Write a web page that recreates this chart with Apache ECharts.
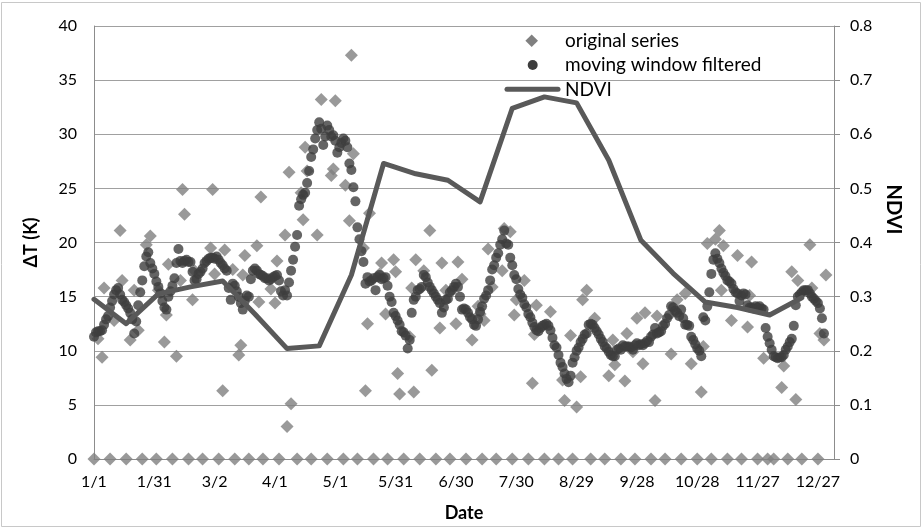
<!DOCTYPE html>
<html>
<head>
<meta charset="utf-8">
<script src="https://cdn.jsdelivr.net/npm/echarts/dist/echarts.min.js"></script>
<style>
  html, body { margin: 0; padding: 0; background: #fff; }
  #chart { width: 923px; height: 529px; }
</style>
</head>
<body>
<div id="chart"></div>
<script>
// Date tick labels, one every 30 days from 1 January
const dateTickLabels = ['1/1', '1/31', '3/2', '4/1', '5/1', '5/31', '6/30', '7/30', '8/29', '9/28', '10/28', '11/27', '12/27'];

// Original ΔT series: day offset from 1 January and value (0 = missing retrieval)
const origDay = [
  0, 2, 4, 5, 8, 10, 13, 14, 16, 18, 20, 22, 24, 26, 28, 31, 32, 35, 36, 37, 39, 41, 43, 44, 45, 47, 49, 50,
  54, 58, 59, 60, 62, 64, 65, 69, 70, 72, 73, 74, 75, 77, 81, 82, 83, 84, 88, 90, 91, 92, 95, 96, 97, 98,
  101, 103, 104, 105, 106, 108, 111, 113, 116, 118, 119, 120, 124, 125, 127, 128, 129, 131, 134, 135, 136, 137,
  139, 142, 143, 145, 146, 149, 150, 151, 152, 154, 157, 158, 159, 160, 162, 164, 167, 168, 170, 172, 173, 175,
  177, 180, 181, 183, 185, 188, 191, 192, 193, 194, 196, 198, 200, 203, 204, 207, 208, 209, 210, 214, 216, 218,
  219, 220, 224, 227, 231, 233, 234, 237, 238, 240, 242, 243, 245, 247, 249, 254, 256, 258, 259, 262, 264, 265,
  268, 269, 270, 273, 274, 277, 279, 280, 284, 287, 290, 292, 294, 297, 300, 302, 303, 305, 307, 309, 311, 312,
  313, 315, 317, 320, 322, 325, 326, 327, 330, 333, 335, 338, 342, 343, 345, 347, 349, 350, 352, 356, 357, 360,
  361, 363, 364
];
const origDeltaT = [
  0, 11.1, 9.4, 15.8, 0, 12.8, 21.1, 16.5, 0, 11.0, 15.6, 11.9, 0, 19.8, 20.6, 0, 15.6, 10.8, 13.3, 18.0, 0, 9.5, 16.5, 24.9, 22.6, 0, 14.7, 17.4,
  0, 19.5, 24.9, 17.1, 0, 6.3, 19.3, 17.5, 0, 9.6, 10.5, 17.0, 18.8, 0, 19.7, 14.5, 24.2, 0, 15.7, 14.4, 18.3, 0, 20.7, 3.0, 26.5, 5.1,
  0, 24.6, 22.1, 28.8, 26.6, 0, 20.7, 33.2, 0, 26.2, 26.8, 33.1, 0, 25.3, 22.0, 37.3, 28.2, 0, 19.5, 6.3, 12.5, 22.7,
  0, 17.1, 18.1, 13.4, 0, 18.4, 17.3, 7.9, 6.0, 0, 11.3, 15.8, 6.2, 18.4, 0, 17.4, 21.1, 8.2, 0, 12.1, 18.1, 15.6,
  0, 12.5, 18.2, 16.6, 0, 11.0, 14.1, 13.4, 0, 12.8, 19.4, 15.9, 0, 17.4, 21.3, 21.0, 0, 13.3, 14.7, 16.5, 0, 7.0,
  11.5, 14.2, 0, 13.6, 0, 7.3, 5.4, 11.4, 0, 4.8, 7.6, 14.7, 15.6, 0, 13.0, 0, 7.7, 11.0, 8.7, 0, 7.2, 11.6,
  9.9, 0, 13.0, 8.8, 13.5, 0, 5.4, 13.2, 0, 9.7, 14.7, 0, 15.3, 8.8, 0, 6.2, 10.4, 19.9, 0, 20.3, 21.1, 15.6,
  19.7, 0, 12.8, 18.8, 0, 12.2, 15.1, 18.2, 0, 9.3, 0, 0, 6.6, 8.6, 0, 17.3, 5.5, 16.5, 0, 19.8, 15.8, 0,
  11.6, 11.0, 17.0
];

// Moving window filtered ΔT, one value per day starting at 1 January
const filteredDeltaT = [
  11.3, 11.7, 11.8, 11.8, 11.9, 12.4, 12.9, 13.2, 14.0, 14.6,
  15.2, 15.6, 15.8, 15.2, 14.7, 14.5, 14.2, 13.9, 13.5, 12.9,
  11.6, 12.7, 14.2, 15.4, 16.5, 17.8, 18.7, 19.1, 18.1, 17.6,
  17.1, 16.4, 15.9, 15.3, 14.6, 14.0, 13.8, 15.0, 15.5, 16.0,
  16.7, 18.1, 19.4, 18.3, 18.1, 18.3, 18.4, 18.2, 18.2, 17.3,
  16.5, 16.6, 17.1, 17.3, 17.6, 18.1, 18.3, 18.5, 18.6, 18.6,
  18.5, 18.7, 18.4, 18.1, 17.9, 17.6, 17.4, 15.8, 14.7, 16.2,
  16.0, 15.5, 15.0, 14.4, 13.8, 14.6, 15.1, 15.0, 16.6, 17.4,
  17.6, 17.4, 17.1, 17.0, 16.9, 16.7, 16.7, 16.5, 16.6, 16.8,
  16.9, 17.0, 16.5, 15.5, 15.1, 15.6, 15.1, 16.3, 17.4, 18.4,
  19.6, 20.7, 23.4, 24.0, 24.4, 24.6, 25.5, 26.6, 27.9, 28.6,
  29.6, 30.4, 31.1, 30.5, 29.0, 29.8, 30.8, 30.4, 29.8, 29.9,
  29.4, 28.3, 28.8, 29.2, 29.6, 29.4, 28.8, 27.3, 26.7, 25.1,
  23.8, 21.4, 20.3, 19.2, 18.2, 16.2, 16.8, 16.4, 16.5, 16.7,
  15.6, 16.8, 17.0, 16.6, 16.7, 16.8, 16.0, 15.0, 14.5, 13.5,
  13.2, 12.8, 12.4, 11.8, 11.7, 11.4, 10.2, 11.0, 13.5, 14.7,
  15.0, 15.6, 15.7, 15.9, 17.0, 16.8, 16.3, 15.9, 15.6, 15.3,
  15.0, 14.7, 14.4, 13.5, 14.0, 14.7, 14.8, 15.4, 15.6, 15.9,
  16.2, 15.9, 15.0, 13.8, 13.9, 13.8, 13.5, 13.1, 12.9, 12.4,
  12.3, 12.9, 13.6, 14.1, 14.8, 15.1, 15.6, 16.5, 17.5, 17.9,
  18.6, 19.0, 19.8, 20.3, 21.1, 19.9, 19.8, 18.6, 17.9, 17.0,
  16.6, 15.7, 15.2, 14.9, 14.3, 14.0, 13.4, 13.1, 12.6, 12.2,
  11.9, 11.8, 12.1, 12.3, 12.4, 12.5, 12.3, 11.9, 11.2, 10.5,
  10.3, 9.6, 8.9, 8.5, 7.9, 7.4, 7.1, 7.7, 8.9, 9.4,
  10.0, 10.3, 10.8, 11.1, 11.5, 11.6, 12.4, 12.5, 12.4, 12.1,
  11.8, 11.5, 11.1, 10.8, 10.4, 10.2, 9.9, 9.6, 9.5, 9.5,
  10.1, 10.2, 10.1, 10.5, 10.4, 10.4, 10.4, 10.3, 10.1, 10.5,
  10.7, 10.5, 10.6, 10.5, 10.7, 10.9, 10.8, 11.3, 11.5, 12.1,
  11.6, 11.7, 11.8, 12.3, 12.5, 13.0, 13.3, 14.1, 14.0, 13.7,
  13.5, 13.2, 13.8, 13.0, 12.4, 12.4, 12.3, 11.3, 11.0, 10.6,
  10.2, 10.0, 9.5, 13.1, 12.8, 14.1, 15.4, 17.1, 18.4, 19.0,
  18.5, 18.1, 17.6, 17.2, 16.9, 16.5, 16.4, 16.2, 15.7, 15.4,
  15.3, 14.6, 15.1, 15.3, 15.2, 14.2, 14.0, 14.0, 13.9, 14.1,
  14.0, 14.1, 13.9, 13.8, 12.1, 11.3, 10.7, 10.1, 9.5, 9.4,
  9.3, 9.4, 9.4, 9.6, 10.1, 10.4, 10.8, 11.1, 12.3, 14.2,
  15.0, 15.2, 15.4, 15.6, 15.6, 15.6, 15.3, 15.0, 14.8, 14.6,
  14.4, 13.9, 13.0, 11.6
];

// 16-day composite NDVI
const ndviDay = [0, 16, 32, 48, 64, 80, 96, 112, 128, 144, 160, 176, 192, 208, 224, 240, 256, 272, 288, 304, 320, 336, 352];
const ndviValue = [0.295, 0.25, 0.305, 0.318, 0.329, 0.268, 0.204, 0.209, 0.34, 0.546, 0.527, 0.515, 0.475, 0.648, 0.669, 0.658, 0.552, 0.404, 0.343, 0.29, 0.28, 0.266, 0.298];

const FONT = 'Lato';
const AXIS_GRAY = '#8c8c8c';

const chart = echarts.init(document.getElementById('chart'), null, { renderer: 'canvas' });

chart.setOption({
  animation: false,
  backgroundColor: '#ffffff',
  grid: { left: 94, right: 89, top: 26, bottom: 70, containLabel: false, outerBoundsMode: 'none' },
  xAxis: {
    type: 'value',
    min: 0,
    max: 368,
    interval: 30,
    axisLine: { show: true, lineStyle: { color: AXIS_GRAY, width: 1 } },
    axisTick: { show: false },
    splitLine: { show: false },
    axisLabel: {
      fontFamily: FONT, fontSize: 16, color: '#000', margin: 15,
      showMaxLabel: false,
      formatter: v => (v % 30 === 0 && dateTickLabels[v / 30] !== undefined) ? dateTickLabels[v / 30] : ''
    },
    name: 'Date',
    nameLocation: 'middle',
    nameGap: 45,
    nameTextStyle: { fontFamily: FONT, fontSize: 18, fontWeight: 'bold', color: '#000' }
  },
  yAxis: [
    {
      type: 'value',
      position: 'left',
      min: 0, max: 40, interval: 5,
      axisLine: { show: true, lineStyle: { color: AXIS_GRAY, width: 1 } },
      axisTick: { show: false },
      splitLine: { show: true, lineStyle: { color: '#a0a0a0', width: 1 } },
      axisLabel: { fontFamily: FONT, fontSize: 16, color: '#000', margin: 17 },
      name: 'ΔT (K)',
      nameLocation: 'middle',
      nameRotate: 90,
      nameGap: 54,
      nameTextStyle: { fontFamily: FONT, fontSize: 18, fontWeight: 'bold', color: '#000' }
    },
    {
      type: 'value',
      position: 'right',
      min: 0, max: 0.8, interval: 0.1,
      axisLine: { show: true, lineStyle: { color: AXIS_GRAY, width: 1 } },
      axisTick: { show: true, length: 6, lineStyle: { color: AXIS_GRAY } },
      splitLine: { show: false },
      axisLabel: {
        fontFamily: FONT, fontSize: 16, color: '#000', margin: 16,
        formatter: v => v === 0 ? '0' : v.toFixed(1)
      },
      name: 'NDVI',
      nameLocation: 'middle',
      nameRotate: -90,
      nameGap: 49,
      nameTextStyle: { fontFamily: FONT, fontSize: 20, fontWeight: 'bold', color: '#000', padding: [0, 66, 0, 0] }
    }
  ],
  series: [
    {
      name: 'original series',
      type: 'scatter',
      data: origDay.map((d, i) => [d, origDeltaT[i]]),
      symbol: 'diamond',
      symbolSize: 13,
      itemStyle: { color: '#808080' },
      clip: false,
      z: 2
    },
    {
      name: 'moving window filtered',
      type: 'scatter',
      data: filteredDeltaT.map((v, i) => [i, v]),
      symbol: 'circle',
      symbolSize: 10,
      itemStyle: { color: '#3d3d3d' },
      clip: false,
      z: 3
    },
    {
      name: 'NDVI',
      type: 'line',
      yAxisIndex: 1,
      data: ndviDay.map((d, i) => [d, ndviValue[i]]),
      symbol: 'none',
      showSymbol: false,
      lineStyle: { color: '#595959', width: 5, cap: 'round', join: 'round' },
      z: 4
    }
  ],
  graphic: [
    {
      type: 'rect', silent: true, z: -10,
      shape: { x: 1.5, y: 2.5, width: 919, height: 524 },
      style: { fill: 'rgba(0,0,0,0)', stroke: '#c8c8c8', lineWidth: 1 }
    },
    {
      type: 'polygon', silent: true,
      shape: { points: [[531.7, 34.5], [538, 40.8], [531.7, 47.1], [525.4, 40.8]] },
      style: { fill: '#808080' }
    },
    {
      type: 'text', silent: true, x: 565, y: 41,
      style: { text: 'original series', font: '19px Lato', fill: '#000', verticalAlign: 'middle' }
    },
    {
      type: 'circle', silent: true,
      shape: { cx: 532.7, cy: 65, r: 5 },
      style: { fill: '#3d3d3d' }
    },
    {
      type: 'text', silent: true, x: 565, y: 65,
      style: { text: 'moving window filtered', font: '19px Lato', fill: '#000', verticalAlign: 'middle' }
    },
    {
      type: 'line', silent: true,
      shape: { x1: 507, y1: 89.3, x2: 558, y2: 89.3 },
      style: { stroke: '#595959', lineWidth: 5, lineCap: 'round' }
    },
    {
      type: 'text', silent: true, x: 565, y: 89.5,
      style: { text: 'NDVI', font: '19px Lato', fill: '#000', verticalAlign: 'middle' }
    }
  ]
});
</script>
</body>
</html>
